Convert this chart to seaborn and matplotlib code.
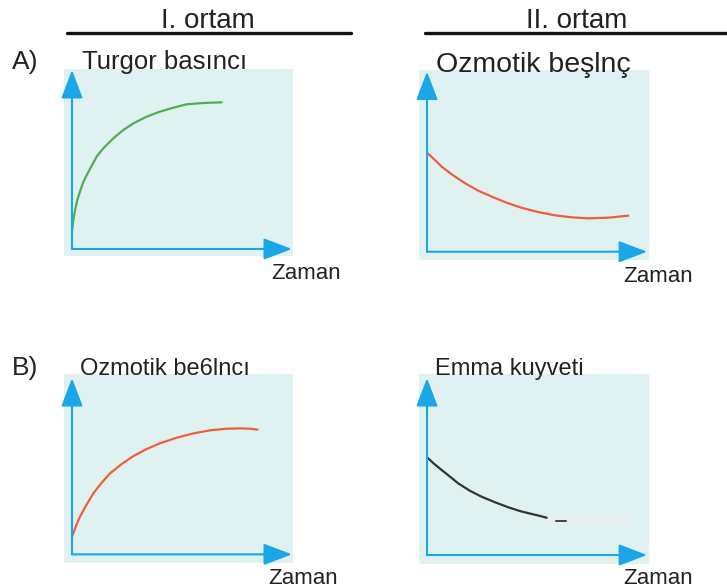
import matplotlib
matplotlib.use("Agg")
import matplotlib.pyplot as plt
import seaborn as sns

# values (x: time units, y: arbitrary units, origin at axis corner)
time_a1 = [0, 0.06, 0.14, 0.24, 0.36, 0.52, 0.67, 0.89, 1.12, 1.42, 1.88, 2.33,
           2.79, 3.39, 4.0, 4.61, 5.21, 5.97, 6.8]
turgor_a1 = [0.96, 1.61, 2.17, 2.72, 3.18, 3.74, 4.11, 4.61, 5.13, 5.59, 6.15, 6.61,
             6.98, 7.35, 7.63, 7.85, 8.04, 8.11, 8.15]

time_a2 = [0, 0.36, 0.67, 1.12, 1.73, 2.33, 2.94, 3.62, 4.30, 5.06, 5.82, 6.58,
           7.33, 8.24, 9.15]
ozmotik_a2 = [5.5, 5.09, 4.72, 4.30, 3.80, 3.39, 3.06, 2.72, 2.44, 2.20, 2.02, 1.91,
              1.85, 1.89, 2.0]

time_b1 = [0, 0.18, 0.36, 0.67, 0.97, 1.35, 1.73, 2.26, 2.79, 3.39, 4.0, 4.76,
           5.52, 6.27, 7.03, 7.64, 8.09, 8.44]
ozmotik_b1 = [0.98, 1.57, 2.09, 2.78, 3.39, 3.98, 4.5, 5.02, 5.46, 5.85, 6.17, 6.48,
              6.72, 6.89, 6.98, 7.0, 6.98, 6.93]

time_b2 = [0, 0.33, 0.67, 1.05, 1.42, 1.95, 2.48, 3.09, 3.70, 4.23, 4.76, 5.14, 5.44]
emma_b2 = [5.43, 5.06, 4.72, 4.35, 3.98, 3.57, 3.24, 2.93, 2.65, 2.44, 2.28, 2.17, 2.07]

# faded scan patch after the black curve
patch_x = [5.49, 9.14]
patch_y = [1.67, 2.17]
dash_x = [5.88, 6.33]
dash_y = [1.89, 1.89]

column_titles = ["I. ortam", "II. ortam"]
row_labels = ["A)", "B)"]
panel_titles = ["Turgor basıncı", "Ozmotik beşlnç", "Ozmotik be6lncı", "Emma kuyveti"]
x_label = "Zaman"

sns.set_style("white")
plt.rcParams["font.family"] = ["Liberation Sans", "DejaVu Sans"]

W, H = 727, 588
fig = plt.figure(figsize=(W / 100, H / 100), dpi=100)

BG = "#dff1f1"
BLUE = "#1ba6e8"
TXT = "#222222"


def px_axes(x0, y0, x1, y1):
    return fig.add_axes([x0 / W, 1 - y1 / H, (x1 - x0) / W, (y1 - y0) / H])


def ftext(x, y, s, **kw):
    fig.text(x / W, 1 - y / H, s, va="baseline", color=TXT, **kw)


def style_axes(ax, xlim, ylim, xtip, ytip):
    ax.set_facecolor(BG)
    ax.set_xlim(*xlim)
    ax.set_ylim(*ylim)
    ax.set_xticks([])
    ax.set_yticks([])
    ax.set_xlabel("")
    ax.set_ylabel("")
    sns.despine(ax=ax, left=True, bottom=True)
    arrow = dict(arrowstyle="-|>,head_length=1.1,head_width=0.42", color=BLUE,
                 lw=1.5, mutation_scale=16, shrinkA=0, shrinkB=0)
    ax.annotate("", xy=(0, ytip), xytext=(0, 0), arrowprops=arrow, annotation_clip=False)
    ax.annotate("", xy=(xtip, 0), xytext=(0, 0), arrowprops=arrow, annotation_clip=False)


# panel A, I. ortam
ax1 = px_axes(64, 69, 293, 256)
sns.lineplot(x=time_a1, y=turgor_a1, ax=ax1, color="#4db04f", linewidth=1.6, estimator=None)
style_axes(ax1, (-0.364, 10.05), (-0.389, 10.0), 10.0, 9.94)

# panel A, II. ortam
ax2 = px_axes(419, 70, 649, 260)
sns.lineplot(x=time_a2, y=ozmotik_a2, ax=ax2, color="#ef5d3c", linewidth=1.6, estimator=None)
style_axes(ax2, (-0.364, 10.09), (-0.46, 10.09), 10.0, 10.0)

# panel B, I. ortam
ax3 = px_axes(64, 374, 293, 563)
sns.lineplot(x=time_b1, y=ozmotik_b1, ax=ax3, color="#ef5d3c", linewidth=1.6, estimator=None)
style_axes(ax3, (-0.364, 10.05), (-0.48, 10.02), 10.0, 9.79)

# panel B, II. ortam
ax4 = px_axes(419, 374, 649, 564)
ax4.fill_between(patch_x, patch_y[0], patch_y[1], color="#e8eded", lw=0, zorder=1)
sns.lineplot(x=time_b2, y=emma_b2, ax=ax4, color="#333333", linewidth=1.6, estimator=None)
sns.lineplot(x=dash_x, y=dash_y, ax=ax4, color="#444444", linewidth=1.4, estimator=None)
style_axes(ax4, (-0.364, 10.09), (-0.5, 10.06), 10.0, 9.83)

# column headers
ftext(208, 28.5, column_titles[0], ha="center", fontsize=20)
ftext(577, 28.5, column_titles[1], ha="center", fontsize=20)
fig.add_artist(plt.Line2D([67 / W, 351 / W], [1 - 33 / H, 1 - 33 / H], color="#111111", lw=2.4))
fig.add_artist(plt.Line2D([425 / W, 727 / W], [1 - 33 / H, 1 - 33 / H], color="#111111", lw=2.4))

# row labels and panel titles
ftext(12, 69, row_labels[0], fontsize=19)
ftext(12, 375, row_labels[1], fontsize=19)
ftext(82, 68.5, panel_titles[0], fontsize=18.5)
ftext(436, 71.5, panel_titles[1], fontsize=20.5)
ftext(80, 375, panel_titles[2], fontsize=17)
ftext(435, 375, panel_titles[3], fontsize=17)

# x labels
for x, y in [(271, 279), (623, 282), (268, 584), (623, 584)]:
    ftext(x, y, x_label, fontsize=16)

fig.savefig("out.png", dpi=100)
